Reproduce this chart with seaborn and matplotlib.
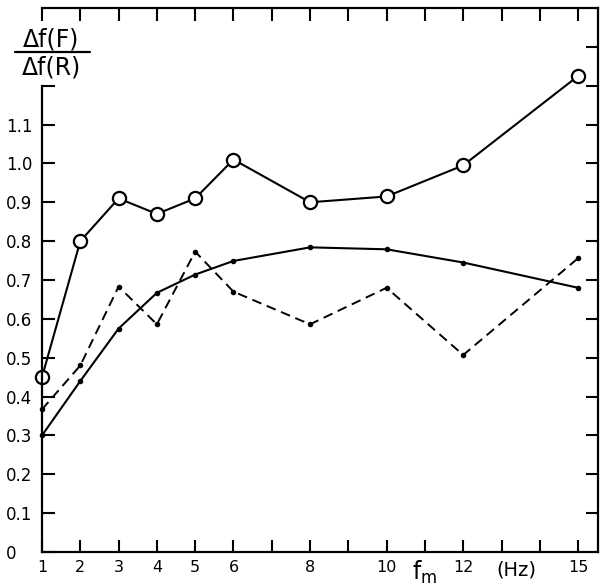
import matplotlib
matplotlib.use("Agg")
import matplotlib.pyplot as plt
import seaborn as sns
import pandas as pd

sns.set_style("ticks")
plt.rcParams['font.family'] = ['DejaVu Sans']
plt.rcParams['text.color'] = 'black'
plt.rcParams['xtick.color'] = 'black'
plt.rcParams['ytick.color'] = 'black'
plt.rcParams['xtick.labelcolor'] = 'black'
plt.rcParams['ytick.labelcolor'] = 'black'

freq = [1, 2, 3, 4, 5, 6, 8, 10, 12, 15]
ratio_open = [0.45, 0.80, 0.91, 0.87, 0.91, 1.01, 0.90, 0.915, 0.995, 1.225]
ratio_solid = [0.30, 0.44, 0.575, 0.667, 0.714, 0.749, 0.784, 0.779, 0.745, 0.68]
ratio_dashed = [0.367, 0.48, 0.683, 0.586, 0.773, 0.67, 0.586, 0.68, 0.507, 0.756]

x_ticks = list(range(1, 16))
x_labels = {1: "1", 2: "2", 3: "3", 4: "4", 5: "5", 6: "6", 8: "8", 10: "10", 12: "12", 15: "15"}
y_ticks_left = [0.0, 0.1, 0.2, 0.3, 0.4, 0.5, 0.6, 0.7, 0.8, 0.9, 1.0, 1.1, 1.2]
y_labels_left = ["0", "0.1", "0.2", "0.3", "0.4", "0.5", "0.6", "0.7", "0.8", "0.9", "1.0", "1.1", ""]
y_ticks_right = [0.1, 0.2, 0.3, 0.4, 0.5, 0.6, 0.7, 0.8, 0.9, 1.0, 1.1, 1.2, 1.3]

df = pd.DataFrame({"f": freq, "open": ratio_open, "solid": ratio_solid, "dashed": ratio_dashed})

fig = plt.figure(figsize=(6.08, 5.85), dpi=100)
ax = fig.add_axes([42/608, 33/585, (598-42)/608, (552-8)/585])

sns.lineplot(data=df, x="f", y="solid", ax=ax, color="black", lw=1.5,
             marker="o", markersize=4, markeredgewidth=0, clip_on=False)
sns.lineplot(data=df, x="f", y="dashed", ax=ax, color="black", lw=1.4,
             marker="o", markersize=4, markeredgewidth=0, dashes=False, clip_on=False)
ax.lines[-1].set_dashes((5, 3))
sns.lineplot(data=df, x="f", y="open", ax=ax, color="black", lw=1.5,
             marker="o", markersize=9.5, markerfacecolor="white",
             markeredgecolor="black", markeredgewidth=1.6, clip_on=False)

ax.set_xlim(1, 15.52)
ax.set_ylim(0, 1.4)
ax.set_xlabel("")
ax.set_ylabel("")

for s in ax.spines.values():
    s.set_linewidth(1.6)
    s.set_color("black")
ax.spines['left'].set_bounds(0, 1.2)

ax.set_xticks(x_ticks)
ax.set_xticklabels([x_labels.get(t, "") for t in x_ticks], fontsize=11.5, color="black")
ax.set_yticks(y_ticks_left)
ax.set_yticklabels(y_labels_left, fontsize=12, color="black")
for lab in ax.get_yticklabels():
    lab.set_horizontalalignment("left")
ax.tick_params(axis="x", direction="in", top=True, bottom=True, length=9, width=1.5, pad=6)
ax.tick_params(axis="y", direction="in", left=True, right=False, length=9, width=1.5, pad=26)

ax2 = ax.twinx()
ax2.set_ylim(0, 1.4)
ax2.set_yticks(y_ticks_right)
ax2.set_yticklabels([])
ax2.tick_params(axis="y", direction="in", right=True, length=9, width=1.5)
for s in ax2.spines.values():
    s.set_visible(False)

ax.annotate(r"f$_\mathregular{m}$", xy=(11, 0), xycoords=("data", "axes fraction"),
            xytext=(0, -5), textcoords="offset points", ha="center", va="top", fontsize=17)
ax.annotate("(Hz)", xy=(13.4, 0), xycoords=("data", "axes fraction"),
            xytext=(0, -6), textcoords="offset points", ha="center", va="top", fontsize=14)

fig.text(51/608, 1 - 39/585, "Δf(F)", ha="center", va="center", fontsize=17)
fig.text(51/608, 1 - 68/585, "Δf(R)", ha="center", va="center", fontsize=17)
fig.add_artist(plt.Line2D([15/608, 90/608], [1 - 52/585, 1 - 52/585], color="black", lw=1.6))

fig.savefig("out.png", dpi=100)
